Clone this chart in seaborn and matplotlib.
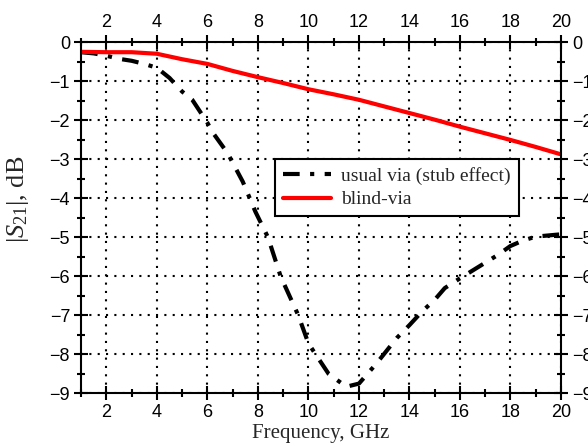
import matplotlib
matplotlib.use('Agg')
import pandas as pd
import seaborn as sns
import matplotlib.pyplot as plt
from matplotlib.ticker import MultipleLocator

# usual via (stub effect)
freq_usual = [1.0, 1.5, 2.0, 2.5, 3.0, 3.5, 4.0, 4.5, 5.0, 5.4, 6.0, 6.2, 6.8, 7.4, 7.9,
              8.4, 8.9, 9.6, 10.0, 10.8, 11.5, 12.0, 12.7, 13.5, 14.0, 14.5, 15.0, 15.4,
              16.0, 16.5, 17.0, 17.5, 18.0, 18.5, 19.0, 19.5, 20.0]
s21_usual = [-0.25, -0.28, -0.34, -0.42, -0.47, -0.55, -0.65, -0.91, -1.26, -1.47, -2.06, -2.3,
             -2.84, -3.57, -4.34, -5.0, -6.0, -7.0, -7.72, -8.5, -8.83, -8.75, -8.23, -7.58,
             -7.25, -6.9, -6.6, -6.3, -6.05, -5.85, -5.65, -5.45, -5.22, -5.08, -4.98, -4.95,
             -4.92]

# blind-via
freq_blind = [1, 2, 3, 4, 5, 6, 7, 8, 9, 10, 11, 12, 13, 14, 15, 16, 17, 18, 19, 20]
s21_blind = [-0.24, -0.25, -0.25, -0.29, -0.43, -0.55, -0.73, -0.89, -1.04, -1.2, -1.33,
             -1.47, -1.64, -1.81, -1.98, -2.16, -2.33, -2.5, -2.68, -2.87]

labels = ["usual via (stub effect)", "blind-via"]

df_usual = pd.DataFrame({"f": freq_usual, "s": s21_usual})
df_blind = pd.DataFrame({"f": freq_blind, "s": s21_blind})

sns.set_style("ticks")
plt.rcParams['font.family'] = ['Liberation Sans', 'DejaVu Sans']
plt.rcParams['mathtext.fontset'] = 'custom'
plt.rcParams['mathtext.rm'] = 'Liberation Serif'
plt.rcParams['mathtext.it'] = 'Liberation Serif:italic'

fig = plt.figure(figsize=(5.88, 4.47), dpi=100)
ax = fig.add_axes([0.138, 0.12, 0.816, 0.785])

sns.lineplot(data=df_usual, x="f", y="s", ax=ax, color="black", lw=3,
             label=labels[0], dashes=False)
ax.lines[-1].set_dashes([4, 2.5, 1, 2.5])
sns.lineplot(data=df_blind, x="f", y="s", ax=ax, color="red", lw=3,
             label=labels[1])

ax.set_xlim(1, 20)
ax.set_ylim(-9, 0)
ax.xaxis.set_major_locator(MultipleLocator(2))
ax.xaxis.set_minor_locator(MultipleLocator(1))
ax.yaxis.set_major_locator(MultipleLocator(1))
ax.yaxis.set_minor_locator(MultipleLocator(0.5))

ax.grid(True, which='major', linestyle=(0, (1, 3)), color='black', lw=1.5)
for sp in ax.spines.values():
    sp.set_linewidth(1.5)
    sp.set_color('black')
ax.tick_params(which='both', direction='inout', top=True, right=True,
               labeltop=True, labelright=True, labelsize=13, width=1.5, colors='black')
ax.tick_params(which='major', length=10, pad=3)
ax.tick_params(which='minor', length=6)

ax.set_xlabel("Frequency, GHz", family='Liberation Serif', fontsize=15, labelpad=2)
ax.set_ylabel(r"$|S_{21}|$, dB", family='Liberation Serif', fontsize=19)
ax.yaxis.set_label_coords(-0.105, 0.554)

leg = ax.legend(loc='upper left', bbox_to_anchor=(0.404, 0.667), borderaxespad=0,
                frameon=True, fancybox=False, edgecolor='black',
                prop={'family': 'Liberation Serif', 'size': 14},
                handlelength=2.5, handletextpad=0.5, borderpad=0.4, labelspacing=0.3)
leg.get_frame().set_linewidth(1.5)
leg.get_frame().set_alpha(1)

fig.savefig("out.png", dpi=100)
